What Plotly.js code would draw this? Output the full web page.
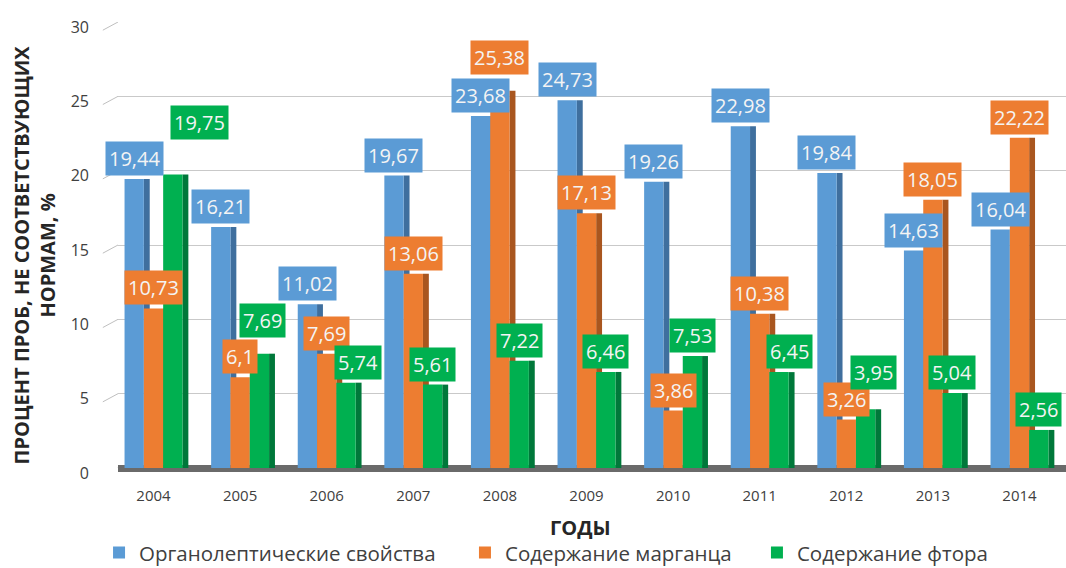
<!DOCTYPE html>
<html>
<head>
<meta charset="utf-8">
<script src="https://cdn.plot.ly/plotly-3.0.1.min.js"></script>
<style>
  html, body { margin: 0; padding: 0; background: #ffffff; }
  #chart { width: 1066px; height: 568px; }
</style>
</head>
<body>
<div id="chart"></div>
<script>
// ---- data ----
const years = ['2004','2005','2006','2007','2008','2009','2010','2011','2012','2013','2014'];
const seriesNames = ['Органолептические свойства', 'Содержание марганца', 'Содержание фтора'];
const organoleptic = [19.44, 16.21, 11.02, 19.67, 23.68, 24.73, 19.26, 22.98, 19.84, 14.63, 16.04];
const manganese    = [10.73, 6.1, 7.69, 13.06, 25.38, 17.13, 3.86, 10.38, 3.26, 18.05, 22.22];
const fluorine     = [19.75, 7.69, 5.74, 5.61, 7.22, 6.46, 7.53, 6.45, 3.95, 5.04, 2.56];
const yTickValues  = [0, 5, 10, 15, 20, 25, 30];
const yAxisTitle   = 'ПРОЦЕНТ ПРОБ, НЕ СООТВЕТСТВУЮЩИХ<br>НОРМАМ, %';
const xAxisTitle   = 'ГОДЫ';

// ---- styling ----
const FONT = '"Open Sans", "Noto Sans", sans-serif';
const frontColors = ['#5b9bd5', '#ed7d31', '#00b050'];
const sideColors  = ['#3f6f9e', '#a9561f', '#00783a'];
const labelColors = ['#5b9bd5', '#ed7d31', '#00b050'];
const barW = 0.223, sideW = 0.068;
const offsets = [-1.5 * barW, -0.5 * barW, 0.5 * barW];
const seriesValues = [organoleptic, manganese, fluorine];
// manual nudges (px) for labels that the original chart moved to avoid overlap
const labelNudge = [
  {},
  {4: [0, 13]},
  {0: [27, 31], 1: [3, 13], 2: [12, 0], 7: [10, 0], 8: [8, 16]}
];

const traces = [];
// side faces first (so neighbouring front faces cover them)
seriesValues.forEach((vals, s) => {
  traces.push({
    type: 'bar', x: years, y: vals, offset: offsets[s] + barW, width: sideW,
    marker: {color: sideColors[s]}, showlegend: false, hoverinfo: 'skip'
  });
});
const legendIds = ['legend', 'legend2', 'legend3'];
seriesValues.forEach((vals, s) => {
  traces.push({
    type: 'bar', name: seriesNames[s], x: years, y: vals,
    offset: offsets[s], width: barW,
    marker: {color: frontColors[s]}, legend: legendIds[s]
  });
});

const annotations = [];
seriesValues.forEach((vals, s) => {
  vals.forEach((v, i) => {
    const n = labelNudge[s][i] || [0, 0];
    annotations.push({
      x: i + offsets[s] + barW / 2, y: v, xref: 'x', yref: 'y',
      text: String(v).replace('.', ','), showarrow: false,
      xanchor: 'center', yanchor: 'bottom',
      xshift: n[0], yshift: 3 + n[1],
      bgcolor: labelColors[s], borderpad: 3,
      font: {family: FONT, size: 20, color: '#f4f4f4'}
    });
  });
});
annotations.push({
  text: yAxisTitle, xref: 'paper', yref: 'paper', x: -0.088, y: 0.478,
  xanchor: 'center', yanchor: 'middle', textangle: -90, showarrow: false,
  font: {family: FONT, size: 20, weight: 700, color: '#262626'}
});
annotations.push({
  text: xAxisTitle, xref: 'paper', yref: 'paper', x: 0.488, y: -0.134,
  xanchor: 'center', yanchor: 'middle', showarrow: false,
  font: {family: FONT, size: 20, weight: 700, color: '#262626'}
});

// slanted connectors from tick labels to the back-wall gridlines
const shapes = yTickValues.map(v => ({
  type: 'line', xref: 'paper', yref: 'y', x0: -0.016, y0: v - 0.55, x1: 0, y1: v,
  line: {color: '#bfbfbf', width: 1}
}));

const legendBase = {orientation: 'h', yanchor: 'middle', y: -0.19, xanchor: 'left',
  font: {family: FONT, size: 20.5, color: '#404040'}, itemwidth: 30, bgcolor: 'rgba(0,0,0,0)'};

const layout = {
  width: 1066, height: 568,
  margin: {l: 118, r: 0, t: 22, b: 100, autoexpand: false},
  paper_bgcolor: '#ffffff', plot_bgcolor: '#ffffff',
  barmode: 'overlay',
  font: {family: FONT, color: '#595959'},
  xaxis: {
    type: 'category', range: [-0.41, 10.537], showgrid: false, zeroline: false,
    showline: false, ticks: '', ticklabelstandoff: 17,
    tickfont: {family: FONT, size: 15, color: '#404040'}
  },
  yaxis: {
    range: [0, 30], tickvals: yTickValues, showgrid: true, gridcolor: '#c9c9c9', gridwidth: 1,
    zeroline: true, zerolinecolor: '#6a6a6a', zerolinewidth: 7,
    showline: false, ticks: '', ticklabelstandoff: 28, ticklabelshift: 5,
    tickfont: {family: FONT, size: 16, color: '#404040'}
  },
  legend: Object.assign({}, legendBase, {x: -0.02}),
  legend2: Object.assign({}, legendBase, {x: 0.366}),
  legend3: Object.assign({}, legendBase, {x: 0.674}),
  annotations: annotations,
  shapes: shapes
};

Plotly.newPlot('chart', traces, layout, {displayModeBar: false, staticPlot: true});
</script>
</body>
</html>
